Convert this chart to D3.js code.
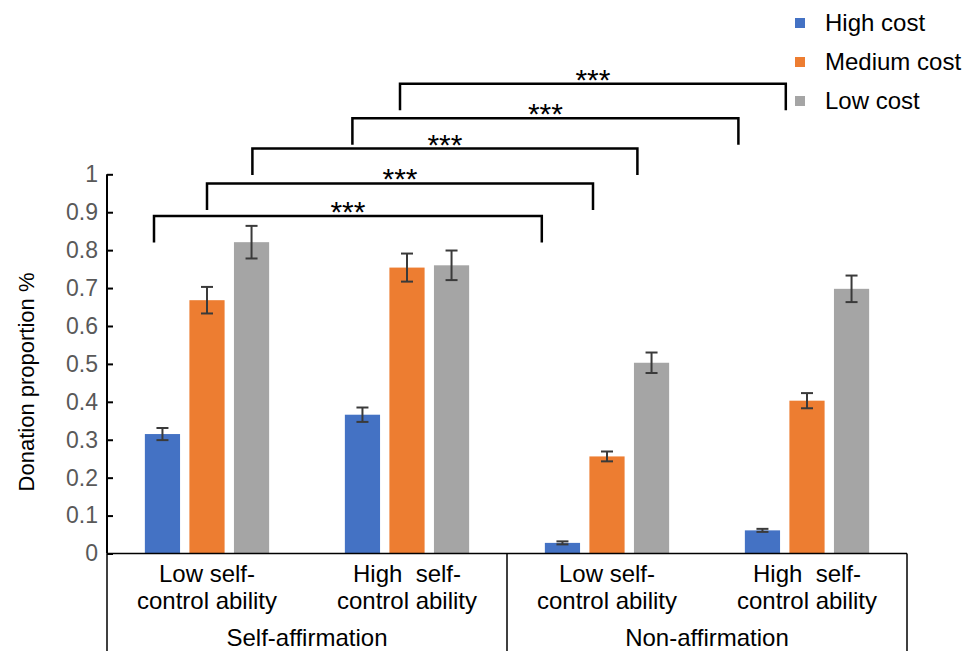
<!DOCTYPE html>
<html>
<head>
<meta charset="utf-8">
<script src="https://cdn.jsdelivr.net/npm/d3@7"></script>
<style>
  html, body { margin: 0; padding: 0; background: #fff; }
  svg { display: block; font-family: "Liberation Sans", Arial, sans-serif; }
</style>
</head>
<body>
<div id="chart"></div>
<script>
// data
var groupLines = [
    ['Low self-', 'control ability'],
    ['High\u00a0 self-', 'control ability'],
    ['Low self-', 'control ability'],
    ['High\u00a0 self-', 'control ability']
];
var conditions = ['Self-affirmation', 'Non-affirmation'];
var series = ['High cost', 'Medium cost', 'Low cost'];
var colors = ['#4472C4', '#ED7D31', '#A5A5A5'];

var highCost = [0.315, 0.366, 0.028, 0.061];
var mediumCost = [0.668, 0.754, 0.256, 0.403];
var lowCost = [0.821, 0.760, 0.503, 0.698];
var highErr = [0.016, 0.019, 0.004, 0.004];
var mediumErr = [0.035, 0.037, 0.013, 0.020];
var lowErr = [0.043, 0.039, 0.027, 0.035];

var yTicks = [0, 0.1, 0.2, 0.3, 0.4, 0.5, 0.6, 0.7, 0.8, 0.9, 1];

// significance brackets, x in group units (0..4), level in y units
var bracketFrom = [0.235, 0.50, 0.727, 1.227, 1.465];
var bracketTo = [2.174, 2.43, 2.652, 3.157, 3.394];
var bracketLevel = [0.890, 0.976, 1.068, 1.148, 1.239];
var bracketLeg = 0.07;
var bracketLabel = '***';

var width = 966, height = 651;
var plotLeft = 107, plotRight = 907, plotTop = 174.3, plotBottom = 553.5;

var values = [highCost, mediumCost, lowCost];
var errs = [highErr, mediumErr, lowErr];
var rows = [];
series.forEach(function(s, si) {
    values[si].forEach(function(v, gi) {
        rows.push({ group: gi, series: si, value: v, err: errs[si][gi] });
    });
});

var svg = d3.select('#chart').append('svg')
    .attr('width', width).attr('height', height);

var x0 = d3.scaleBand().domain(d3.range(groupLines.length)).range([plotLeft, plotRight]);
var x1 = d3.scaleBand().domain(d3.range(series.length)).range([0, x0.bandwidth()])
    .paddingInner(0.21).paddingOuter(0.85);
var xPos = d3.scaleLinear().domain([0, groupLines.length]).range([plotLeft, plotRight]);
var y = d3.scaleLinear().domain([0, 1]).range([plotBottom, plotTop]);

// bars
svg.append('g').selectAll('rect').data(rows).join('rect')
    .attr('x', function(d) { return x0(d.group) + x1(d.series); })
    .attr('y', function(d) { return y(d.value); })
    .attr('width', x1.bandwidth())
    .attr('height', function(d) { return y(0) - y(d.value); })
    .attr('fill', function(d) { return colors[d.series]; });

// error bars
var eb = svg.append('g').attr('stroke', '#3a3a3a').attr('stroke-width', 2)
    .selectAll('g').data(rows).join('g')
    .attr('transform', function(d) {
        return 'translate(' + (x0(d.group) + x1(d.series) + x1.bandwidth() / 2) + ',0)';
    });
eb.append('line')
    .attr('y1', function(d) { return y(d.value + d.err); })
    .attr('y2', function(d) { return y(d.value - d.err); });
eb.append('line').attr('x1', -6).attr('x2', 6)
    .attr('y1', function(d) { return y(d.value + d.err); })
    .attr('y2', function(d) { return y(d.value + d.err); });
eb.append('line').attr('x1', -6).attr('x2', 6)
    .attr('y1', function(d) { return y(d.value - d.err); })
    .attr('y2', function(d) { return y(d.value - d.err); });

// y axis
var yAxis = svg.append('g').attr('transform', 'translate(' + plotLeft + ',0)')
    .call(d3.axisRight(y).tickValues(yTicks).tickSize(6).tickFormat(d3.format('~g')));
yAxis.select('.domain').attr('d', 'M0,' + plotTop + 'V' + plotBottom).attr('stroke', '#000').attr('stroke-width', 2);
yAxis.selectAll('.tick line').attr('stroke', '#000').attr('stroke-width', 2);
yAxis.selectAll('.tick text')
    .attr('x', -9).attr('text-anchor', 'end')
    .attr('fill', '#595959').attr('font-size', 23)
    .attr('font-family', '"Liberation Sans", Arial, sans-serif');

svg.append('text')
    .attr('transform', 'translate(34,382) rotate(-90)')
    .attr('text-anchor', 'middle')
    .attr('font-size', 22)
    .text('Donation proportion %');

// category axis (two levels)
var xa = svg.append('g').attr('stroke', '#000').attr('stroke-width', 1.5);
xa.append('line').attr('x1', plotLeft).attr('x2', plotRight).attr('y1', plotBottom).attr('y2', plotBottom);
d3.range(0, groupLines.length + 1, 2).forEach(function(i) {
    xa.append('line').attr('x1', xPos(i)).attr('x2', xPos(i))
        .attr('y1', plotBottom).attr('y2', height);
});

var gl = svg.append('g').attr('font-size', 24).attr('text-anchor', 'middle');
groupLines.forEach(function(lines, gi) {
    var cx = x0(gi) + x0.bandwidth() / 2;
    var t = gl.append('text').attr('x', cx).attr('y', 582);
    lines.forEach(function(l, li) {
        t.append('tspan').attr('x', cx).attr('dy', li === 0 ? 0 : 27).text(l);
    });
});
conditions.forEach(function(c, ci) {
    gl.append('text').attr('x', xPos(ci * 2 + 1)).attr('y', 646).text(c);
});

// significance brackets
var br = svg.append('g');
bracketFrom.forEach(function(f, i) {
    var lv = bracketLevel[i];
    br.append('path')
        .attr('d', 'M' + xPos(f) + ',' + y(lv - bracketLeg) + 'V' + y(lv) +
            'H' + xPos(bracketTo[i]) + 'V' + y(lv - bracketLeg))
        .attr('fill', 'none').attr('stroke', '#000').attr('stroke-width', 2.5);
    br.append('text')
        .attr('x', (xPos(f) + xPos(bracketTo[i])) / 2)
        .attr('y', y(lv) + 6)
        .attr('text-anchor', 'middle').attr('font-size', 30)
        .text(bracketLabel);
});

// legend
var lg = svg.append('g').attr('transform', 'translate(795,0)');
var ly = d3.scalePoint().domain(series).range([23, 101]);
series.forEach(function(s, i) {
    lg.append('rect').attr('x', 0).attr('y', ly(s) - 5).attr('width', 10).attr('height', 10)
        .attr('fill', colors[i]);
    lg.append('text').attr('x', 30).attr('y', ly(s) + 8).attr('font-size', 24).text(s);
});
</script>
</body>
</html>
